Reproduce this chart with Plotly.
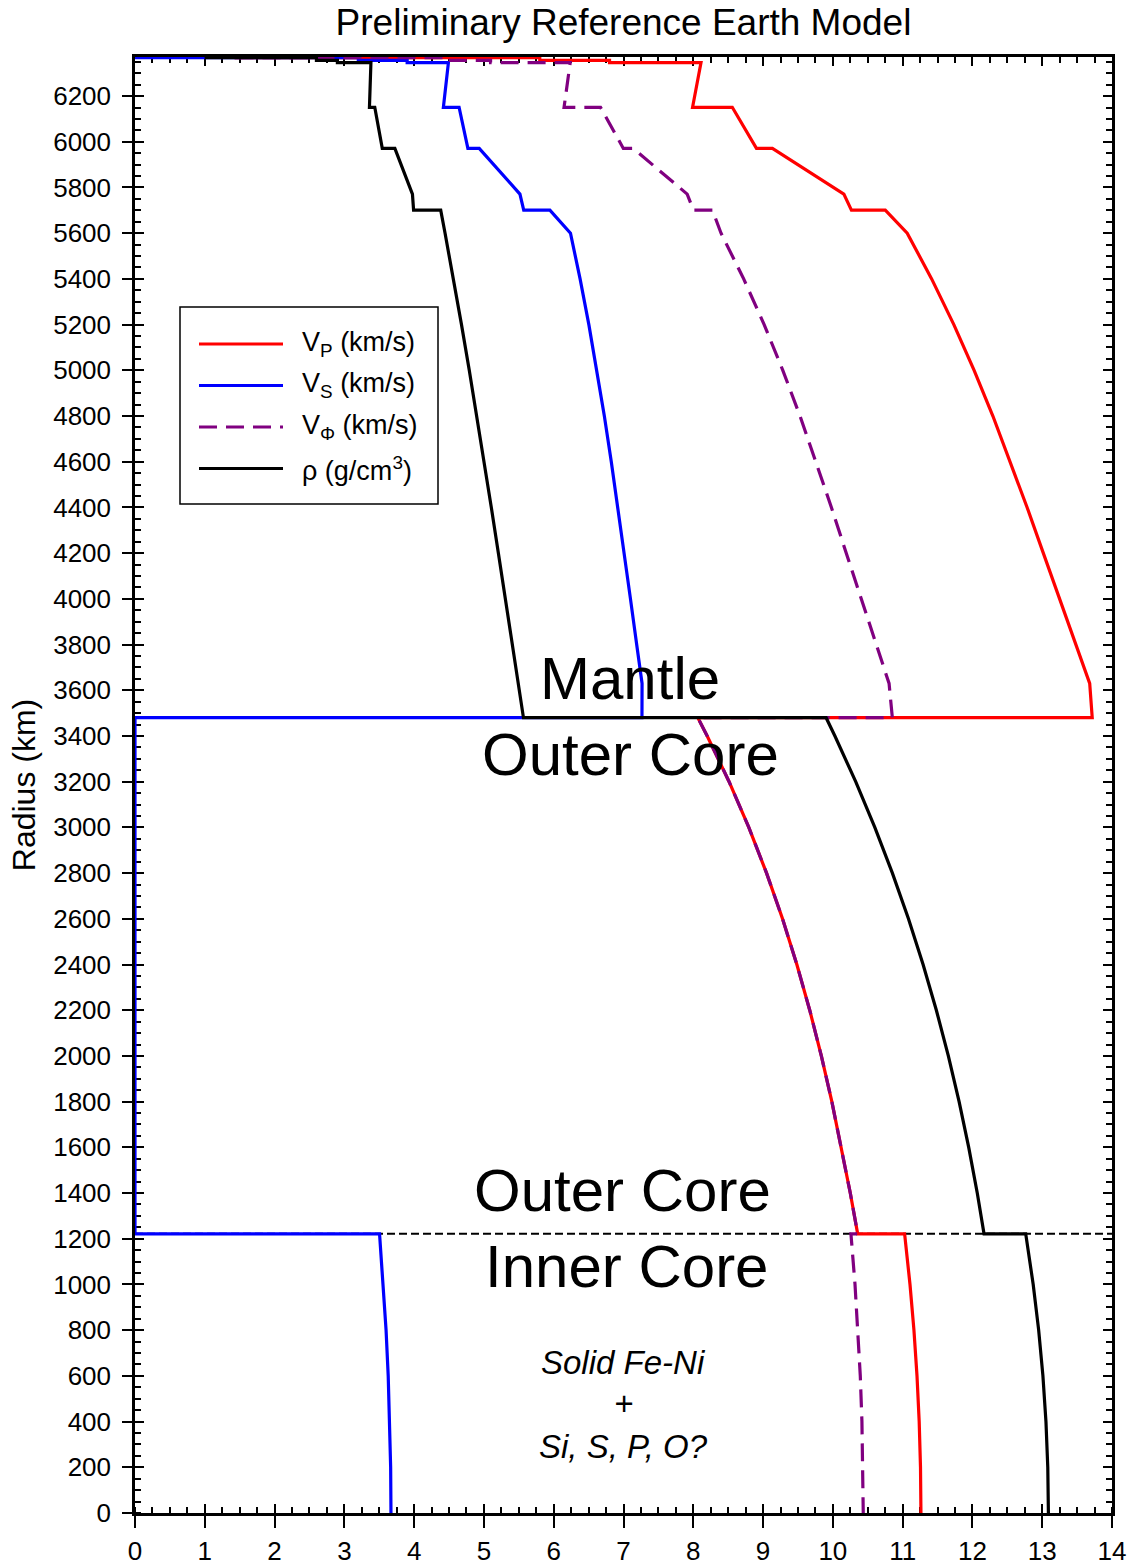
import plotly.graph_objects as go

# ---------------- data (PREM) ----------------
radius_km = [6371, 6368, 6368, 6356, 6356, 6346.6, 6346.6, 6151, 6151, 5971, 5971,
             5771, 5701, 5701, 5600, 5400, 5200, 5000, 4800, 4600, 4400, 4200, 4000,
             3800, 3630, 3480, 3480, 3400, 3200, 3000, 2800, 2600, 2400, 2200, 2000,
             1800, 1600, 1400, 1221.5, 1221.5, 1000, 800, 600, 400, 200, 0]

vp_kms = [1.45, 1.45, 5.80, 5.80, 6.80, 6.80, 8.1106, 7.9897, 8.5589, 8.9052, 9.1339,
          10.1578, 10.2662, 10.7513, 11.0656, 11.4156, 11.7336, 12.0244, 12.2932, 12.5446,
          12.7839, 13.0158, 13.2453, 13.4774, 13.6804, 13.7166, 8.0648, 8.1994, 8.5131,
          8.7957, 9.0502, 9.2788, 9.4841, 9.6687, 9.8350, 9.9856, 10.1230, 10.2496,
          10.3557, 11.0283, 11.1054, 11.1619, 11.2058, 11.2371, 11.2559, 11.2622]

vs_kms = [0.0, 0.0, 3.20, 3.20, 3.90, 3.90, 4.4910, 4.4189, 4.6439, 4.7699, 4.9325,
          5.5160, 5.5702, 5.9452, 6.2404, 6.3780, 6.5036, 6.6189, 6.7255, 6.8251,
          6.9195, 7.0104, 7.0998, 7.1888, 7.2660, 7.2647, 0.0, 0.0, 0.0,
          0.0, 0.0, 0.0, 0.0, 0.0, 0.0, 0.0, 0.0, 0.0,
          0.0, 3.5043, 3.5582, 3.5977, 3.6284, 3.6503, 3.6634, 3.6678]

vphi_kms = [1.45, 1.45, 4.4707, 4.4707, 5.0951, 5.0951, 6.2362, 6.1481, 6.6708, 6.9976, 7.1406,
            7.9128, 8.0016, 8.2742, 8.3978, 8.7222, 9.0156, 9.2829, 9.5296, 9.7600,
            9.9794, 10.1923, 10.4033, 10.6177, 10.8055, 10.8525, 8.0648, 8.1994, 8.5131,
            8.7957, 9.0502, 9.2788, 9.4841, 9.6687, 9.8350, 9.9856, 10.1230, 10.2496,
            10.3557, 10.2591, 10.3174, 10.3600, 10.3931, 10.4166, 10.4308, 10.4355]

rho_gcc = [1.02, 1.02, 2.60, 2.60, 2.90, 2.90, 3.3807, 3.3595, 3.4358, 3.5433, 3.7237,
           3.9758, 3.9921, 4.3807, 4.4432, 4.5631, 4.6784, 4.7899, 4.8978, 5.0030,
           5.1059, 5.2072, 5.3073, 5.4068, 5.4915, 5.5665, 9.9034, 10.0294, 10.3273,
           10.6015, 10.8532, 11.0834, 11.2930, 11.4831, 11.6548, 11.8090, 11.9468, 12.0692,
           12.1663, 12.7636, 12.8708, 12.9492, 13.0101, 13.0537, 13.0798, 13.0885]

icb_radius_km = 1221.5
earth_radius_km = 6371

series_labels = ["V<sub>P</sub> (km/s)", "V<sub>S</sub> (km/s)",
                 "V<sub>Φ</sub> (km/s)", "ρ (g/cm<sup>3</sup>)"]
series_values = [vp_kms, vs_kms, vphi_kms, rho_gcc]

# ---------------- styles ----------------
FONT = "Liberation Sans, Arial, sans-serif"
colors = ["#ff0000", "#0000ff", "#800080", "#000000"]
dashes = ["solid", "solid", "18px,9px", "solid"]
LW = 3.2

fig = go.Figure()
for name, vals, c, d in zip(series_labels, series_values, colors, dashes):
    fig.add_trace(go.Scatter(x=vals, y=radius_km, mode="lines", name=name,
                             line=dict(color=c, width=LW, dash=d),
                             showlegend=False, hoverinfo="skip"))

# dummy traces to realise the mirrored (inside-tick) axes
fig.add_trace(go.Scatter(x=[None], y=[None], xaxis="x2", yaxis="y2",
                         showlegend=False, hoverinfo="skip"))
fig.add_trace(go.Scatter(x=[None], y=[None], xaxis="x3", yaxis="y3",
                         showlegend=False, hoverinfo="skip"))

# inner-core boundary dashed line
fig.add_shape(type="line", xref="paper", x0=0, x1=1, yref="y",
              y0=icb_radius_km, y1=icb_radius_km,
              line=dict(color="black", width=2, dash="8px,4px"), layer="below")

xr = [0, 14]
yr = [0, earth_radius_km]
common = dict(showgrid=False, zeroline=False, tickcolor="black", tickwidth=2,
              linecolor="black", linewidth=2.5, layer="below traces", automargin=False)
fig.update_layout(
    width=1139, height=1568,
    margin=dict(l=135, r=27, t=57, b=55),
    plot_bgcolor="white", paper_bgcolor="white",
    font=dict(family=FONT, color="black"),
    title=dict(text="Preliminary Reference Earth Model", x=0.5, xref="paper",
               xanchor="center", y=1 - 22 / 1568, yanchor="middle",
               font=dict(size=37, family=FONT, color="black")),
    xaxis=dict(range=xr, tickmode="linear", tick0=0, dtick=1, ticks="outside", ticklen=12,
               showline=True, mirror=False, tickfont=dict(size=26), ticklabelstandoff=1,
               minor=dict(ticks="inside", ticklen=6, dtick=0.25, tick0=0,
                          tickcolor="black", tickwidth=1.5),
               **common),
    xaxis2=dict(range=xr, overlaying="x", side="top", anchor="y", tickmode="linear",
                tick0=0, dtick=1, ticks="inside", ticklen=9, showticklabels=False,
                showline=True,
                minor=dict(ticks="inside", ticklen=6, dtick=0.25, tick0=0,
                           tickcolor="black", tickwidth=1.5),
                **common),
    xaxis3=dict(range=xr, overlaying="x", side="bottom", anchor="y", tickmode="linear",
                tick0=0, dtick=1, ticks="inside", ticklen=9, showticklabels=False,
                showline=False, **common),
    yaxis=dict(range=yr, tickmode="linear", tick0=0, dtick=200, ticks="outside", ticklen=10,
               showline=True, mirror=False, tickfont=dict(size=26), ticklabelstandoff=6,
               title=dict(text="Radius (km)", font=dict(size=32), standoff=9),
               minor=dict(ticks="inside", ticklen=6, dtick=50, tick0=0,
                          tickcolor="black", tickwidth=1.5),
               **common),
    yaxis2=dict(range=yr, overlaying="y", side="right", anchor="x", tickmode="linear",
                tick0=0, dtick=200, ticks="inside", ticklen=9, showticklabels=False,
                showline=True,
                minor=dict(ticks="inside", ticklen=6, dtick=50, tick0=0,
                           tickcolor="black", tickwidth=1.5),
                **common),
    yaxis3=dict(range=yr, overlaying="y", side="left", anchor="x", tickmode="linear",
                tick0=0, dtick=200, ticks="inside", ticklen=9, showticklabels=False,
                showline=False, **common),
    showlegend=False,
)

# region labels
big = dict(size=60, family=FONT, color="black")
for txt, xv, yv in [("Mantle", 7.1, 3650), ("Outer Core", 7.1, 3320),
                    ("Outer Core", 6.99, 1410), ("Inner Core", 7.05, 1078)]:
    fig.add_annotation(x=xv, y=yv, xref="x", yref="y", text=txt, showarrow=False,
                       font=big, xanchor="center", yanchor="middle")
ital = dict(size=33, family=FONT, color="black")
for txt, yv in [("<i>Solid Fe-Ni</i>", 660), ("<i>+</i>", 478), ("<i>Si, S, P, O?</i>", 290)]:
    fig.add_annotation(x=7.0, y=yv, xref="x", yref="y", text=txt, showarrow=False,
                       font=ital, xanchor="center", yanchor="middle")

# legend (drawn manually to match the long line samples)
PW, PH, L, B = 977, 1456, 135, 1513
def px(xp):
    return (xp - L) / PW
def py(yp):
    return (B - yp) / PH
fig.add_shape(type="rect", xref="paper", yref="paper", x0=px(180), x1=px(438),
              y0=py(504), y1=py(307), line=dict(color="black", width=1.5),
              fillcolor="white", layer="above")
for i, (name, c, d) in enumerate(zip(series_labels, colors, dashes)):
    yl = py(344 + i * 41.5)
    fig.add_annotation(xref="paper", yref="paper", x=px(300), y=yl, text=name,
                       showarrow=False, xanchor="left", yanchor="middle",
                       font=dict(size=27, family=FONT, color="black"))
    fig.add_shape(type="line", xref="paper", yref="paper", x0=px(199), x1=px(283),
                  y0=yl, y1=yl, line=dict(color=c, width=LW, dash=d), layer="above")

fig.write_html("out.html")
